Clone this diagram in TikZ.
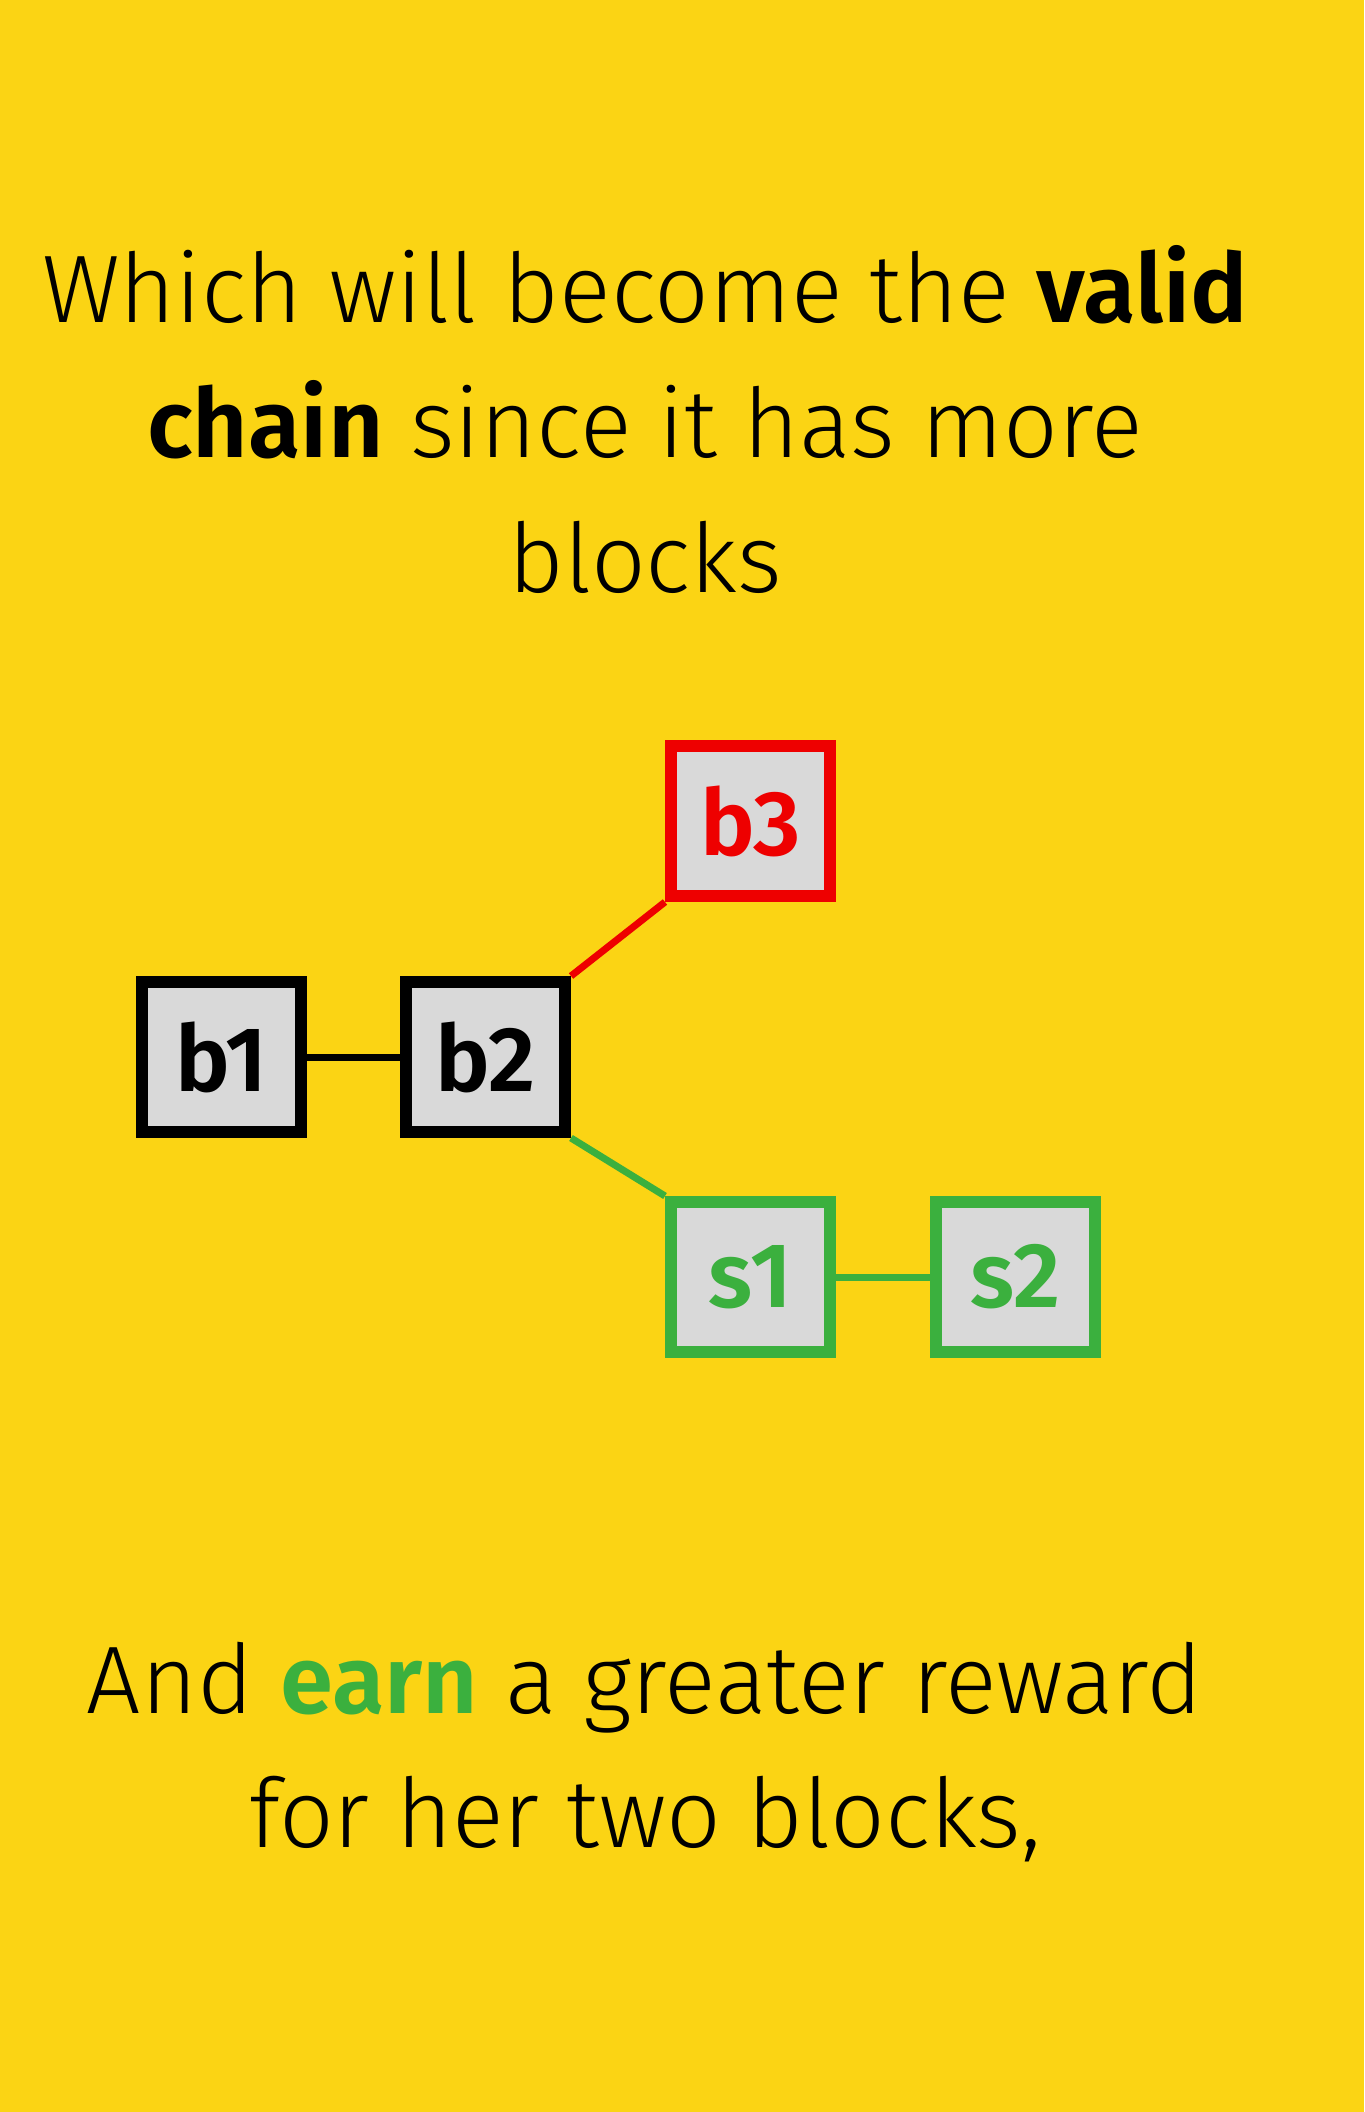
\documentclass[tikz,border=0pt]{standalone}
\usepackage{fontspec}
\setmainfont{Fira Sans}[UprightFont=* Light,BoldFont=* SemiBold]
\usetikzlibrary{positioning}
\definecolor{chainyellow}{RGB}{251,212,20}
\definecolor{chainred}{RGB}{238,0,0}
\definecolor{chaingreen}{RGB}{59,176,62}
\definecolor{chaingrey}{RGB}{217,217,217}

\begin{document}
\begin{tikzpicture}[x=0.5pt,y=-0.5pt,
      node distance=37pt and 47pt,
      block/.style={draw,fill=chaingrey,line width=6pt,minimum width=79.5pt,
        minimum height=75pt,inner sep=0pt,font=\fontsize{46}{50}\selectfont\bfseries},
      link/.style={line width=3.5pt},
      caption/.style={anchor=base,inner sep=0pt,font=\fontsize{48}{60}\selectfont}]
    \fill[chainyellow] (0,0) rectangle (1364,2112);
    % top text
    \node[caption] (t1) at (645,323) {Which will become the \textbf{valid}};
    \node[caption] (t2) at (645,458) {\textbf{chain} since it has more};
    \node[caption] (t3) at (645,592) {blocks};
    % blocks
    \node[block] (b1) at (221.5,1057) {b1};
    \node[block,right=46.5pt of b1] (b2) {b2};
    \node[block,draw=chainred,text=chainred,above right=37pt and 47pt of b2] (b3) {b3};
    \node[block,draw=chaingreen,text=chaingreen,below right=29pt and 47pt of b2] (s1) {s1};
    \node[block,draw=chaingreen,text=chaingreen,right=47pt of s1] (s2) {s2};
    \draw[link] (b1) -- (b2);
    \draw[link,chainred] (b2.north east) -- (b3.south west);
    \draw[link,chaingreen] (b2.south east) -- (s1.north west);
    \draw[link,chaingreen] (s1) -- (s2);
    % bottom text
    \node[caption] (t4) at (645,1713) {And \textcolor{chaingreen}{\textbf{earn}} a greater reward};
    \node[caption] (t5) at (645,1847) {for her two blocks,};
  \end{tikzpicture}
\end{document}
